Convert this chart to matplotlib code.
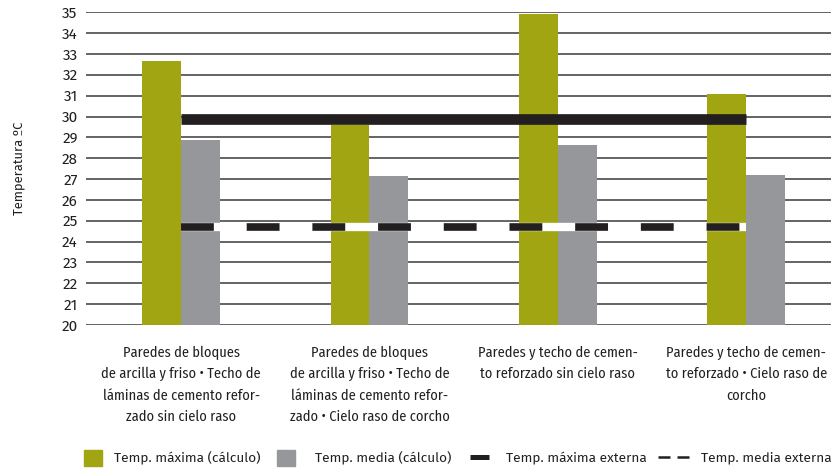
import matplotlib
matplotlib.use("Agg")
import matplotlib.pyplot as plt
from matplotlib.patches import Patch
from matplotlib.lines import Line2D
import numpy as np

categories = [
    "Paredes de bloques\nde arcilla y friso • Techo de\nláminas de cemento refor-\nzado sin cielo raso",
    "Paredes de bloques\nde arcilla y friso • Techo de\nláminas de cemento refor-\nzado • Cielo raso de corcho",
    "Paredes y techo de cemen-\nto reforzado sin cielo raso",
    "Paredes y techo de cemen-\nto reforzado • Cielo raso de\ncorcho",
]
temp_max_calc = [32.65, 29.6, 34.92, 31.1]
temp_media_calc = [28.87, 27.15, 28.63, 27.2]
temp_max_ext = [29.9, 29.9, 29.9, 29.9]
temp_media_ext = [24.72, 24.72, 24.72, 24.72]
yticks = list(range(20, 36))

green = "#a2a512"
gray = "#96979a"
black = "#231f20"

plt.rcParams['font.family'] = ['Fira Sans', 'DejaVu Sans']
cond = ['Fira Sans Condensed', 'DejaVu Sans']

fig = plt.figure(figsize=(8.31, 4.72), dpi=100)
ax = fig.add_axes([86 / 831, 1 - 325 / 472, 1 - 86 / 831, (325 - 12.3) / 472])

x = np.arange(len(categories))
w = 0.207
ax.bar(x - w / 2, [v - 20 for v in temp_max_calc], w, bottom=20, color=green, zorder=2)
ax.bar(x + w / 2, [v - 20 for v in temp_media_calc], w, bottom=20, color=gray, zorder=2)

ax.plot(x, temp_max_ext, color=black, lw=7.7, solid_capstyle='butt', zorder=3)
ax.plot(x, temp_media_ext, color='white', lw=6.0, solid_capstyle='butt', zorder=3)
ax.plot(x, temp_media_ext, color=black, lw=5.5, dashes=(4.3, 4.3),
        dash_capstyle='butt', zorder=4)

ax.set_ylim(20, 35)
ax.set_xlim(-0.505, 3.45)
ax.set_yticks(yticks)
ax.set_xticks(x)
ax.set_xticklabels(categories, fontsize=10.3, linespacing=1.62, va='top', family=cond)
ax.tick_params(axis='y', length=0, pad=6, labelsize=11, labelcolor='#231f20')
ax.tick_params(axis='x', length=0, pad=15, labelcolor='#231f20')
ax.grid(axis='y', color='#3a3a3a', lw=1.1, zorder=0)
ax.set_axisbelow(True)
for s in ax.spines.values():
    s.set_visible(False)

ax.set_ylabel("Temperatura ºC", fontsize=9.3, color='#231f20')
ax.yaxis.set_label_coords((25 - 86) / 745, 0.5)

# legend: one entry per legend box, placed like the reference row
leg_items = [
    (Patch(color=green), "Temp. máxima (cálculo)", 84, 1.35, 1.35, 0.85),
    (Patch(color=gray), "Temp. media (cálculo)", 277, 1.35, 1.35, 1.45),
    (Line2D([], [], color=black, lw=3.6, solid_capstyle='butt'),
     "Temp. máxima externa", 470, 1.4, 0.7, 1.25),
    (Line2D([], [], color=black, lw=1.8, dashes=(4.8, 2.8), dash_capstyle='butt'),
     "Temp. media externa", 658, 2.3, 0.7, 0.85),
]
for h, lab, xpx, hl, hh, tp in leg_items:
    fig.legend([h], [lab], loc='center left', bbox_to_anchor=(xpx / 831, 14 / 472),
               frameon=False, fontsize=9.8, handlelength=hl, handleheight=hh,
               handletextpad=tp, borderpad=0, borderaxespad=0,
               labelcolor='#231f20')

fig.savefig("out.png", dpi=100)
